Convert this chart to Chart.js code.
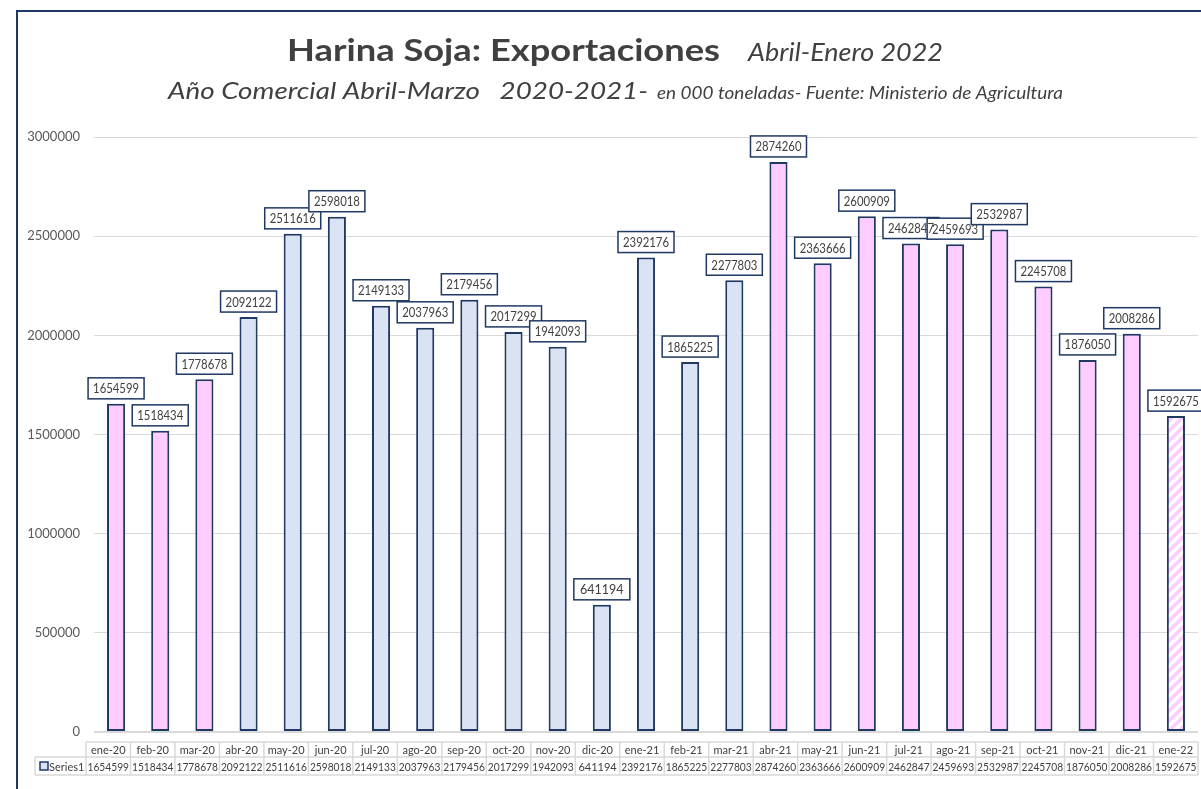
<!DOCTYPE html>
<html>
<head>
<meta charset="utf-8">
<script src="https://cdn.jsdelivr.net/npm/chart.js@4.4.1/dist/chart.umd.min.js"></script>
<style>
  body { margin: 0; background: #fff; }
  canvas { display: block; }
</style>
</head>
<body>
<canvas id="myChart" width="1201" height="789"></canvas>
<script>
// datos
const meses = ['ene-20','feb-20','mar-20','abr-20','may-20','jun-20','jul-20','ago-20','sep-20','oct-20','nov-20','dic-20',
  'ene-21','feb-21','mar-21','abr-21','may-21','jun-21','jul-21','ago-21','sep-21','oct-21','nov-21','dic-21','ene-22'];
const exportaciones = [1654599,1518434,1778678,2092122,2511616,2598018,2149133,2037963,2179456,2017299,1942093,641194,
  2392176,1865225,2277803,2874260,2363666,2600909,2462847,2459693,2532987,2245708,1876050,2008286,1592675];
const campania = ['19/20','19/20','19/20','20/21','20/21','20/21','20/21','20/21','20/21','20/21','20/21','20/21',
  '20/21','20/21','20/21','21/22','21/22','21/22','21/22','21/22','21/22','21/22','21/22','21/22','21/22p'];
const yTicks = [0, 500000, 1000000, 1500000, 2000000, 2500000, 3000000];
const serieNombre = 'Series1';

const NAVY = '#1F3864';
const PINK = '#FFCCFF';
const BLUE = '#DAE3F3';
const TXT = '#404040';
const FONT = 'Lato, "Open Sans", sans-serif';

// rayado para el ultimo mes (parcial)
function rayado() {
  const c = document.createElement('canvas');
  c.width = 10; c.height = 10;
  const g = c.getContext('2d');
  g.fillStyle = '#fff';
  g.fillRect(0, 0, 10, 10);
  g.strokeStyle = PINK;
  g.lineWidth = 3.5;
  g.beginPath();
  g.moveTo(-2, 12); g.lineTo(12, -2);
  g.moveTo(-7, 7); g.lineTo(7, -7);
  g.moveTo(3, 17); g.lineTo(17, 3);
  g.stroke();
  return g.createPattern(c, 'repeat');
}
const rayas = rayado();
const colores = campania.map(c => c === '20/21' ? BLUE : (c === '21/22p' ? rayas : PINK));

// texto estirado al ancho pedido (la fuente original es mas ancha)
function texto(ctx, t, x, y, font, w) {
  ctx.font = font;
  const m = ctx.measureText(t).width;
  ctx.save();
  ctx.translate(x, y);
  ctx.scale(w / m, 1);
  ctx.fillText(t, 0, 0);
  ctx.restore();
}

const fondo = {
  id: 'fondo',
  beforeDraw(chart) {
    const ctx = chart.ctx;
    ctx.save();
    ctx.fillStyle = '#fff';
    ctx.fillRect(0, 0, chart.width, chart.height);
    ctx.strokeStyle = NAVY;
    ctx.lineWidth = 2;
    ctx.strokeRect(17, 11, chart.width + 20, chart.height + 20);
    ctx.restore();
  },
  afterDraw(chart) {
    const ctx = chart.ctx;
    ctx.save();
    ctx.fillStyle = TXT;
    ctx.textBaseline = 'alphabetic';
    ctx.textAlign = 'left';
    texto(ctx, 'Harina Soja: Exportaciones', 287, 61, 'bold 31px ' + FONT, 433);
    texto(ctx, 'Abril-Enero 2022', 748, 61, 'italic 25px ' + FONT, 195);
    texto(ctx, 'Año Comercial Abril-Marzo   2020-2021-', 168, 99, 'italic 24px ' + FONT, 480);
    texto(ctx, 'en 000 toneladas- Fuente: Ministerio de Agricultura', 657, 99, 'italic 17px ' + FONT, 406);
    ctx.restore();
  }
};

// primero las cajas, despues los numeros (como Excel)
const etiquetas = {
  id: 'etiquetas',
  afterDatasetsDraw(chart) {
    const ctx = chart.ctx;
    const meta = chart.getDatasetMeta(0);
    const w = 56, h = 21;
    ctx.save();
    meta.data.forEach(bar => {
      const x = bar.x - w / 2, y = bar.y - 5 - h;
      ctx.fillStyle = '#fff';
      ctx.fillRect(x, y, w, h);
      ctx.strokeStyle = NAVY;
      ctx.lineWidth = 1.5;
      ctx.strokeRect(x, y, w, h);
    });
    ctx.font = '12.5px ' + FONT;
    ctx.textAlign = 'center';
    ctx.textBaseline = 'middle';
    ctx.fillStyle = TXT;
    meta.data.forEach((bar, i) => {
      ctx.fillText(String(exportaciones[i]), bar.x, bar.y - 5 - h / 2 + 1, 46);
    });
    ctx.restore();
  }
};

const tabla = {
  id: 'tabla',
  afterDraw(chart) {
    const ctx = chart.ctx;
    const a = chart.chartArea;
    const left = a.left - 8, right = a.right;
    const cw = (right - left) / meses.length;
    const top = 742, mid = 757, bot = 775, legL = 35;
    ctx.save();
    ctx.strokeStyle = '#D9D9D9';
    ctx.lineWidth = 1.5;
    ctx.beginPath();
    ctx.moveTo(left, top); ctx.lineTo(right, top);
    ctx.moveTo(legL, mid); ctx.lineTo(right, mid);
    ctx.moveTo(legL, bot); ctx.lineTo(right, bot);
    ctx.moveTo(legL, mid); ctx.lineTo(legL, bot);
    for (let i = 0; i <= meses.length; i++) {
      const x = left + i * cw;
      ctx.moveTo(x, top); ctx.lineTo(x, bot);
    }
    ctx.stroke();
    ctx.fillStyle = TXT;
    ctx.font = '11px ' + FONT;
    ctx.textAlign = 'center';
    ctx.textBaseline = 'middle';
    meses.forEach((m, i) => {
      const cx = left + (i + 0.5) * cw;
      ctx.fillText(m, cx, (top + mid) / 2 + 1, cw - 3);
      ctx.fillText(String(exportaciones[i]), cx, (mid + bot) / 2 + 1, cw - 3);
    });
    // clave de la serie
    ctx.fillStyle = BLUE;
    ctx.fillRect(40, 762, 8, 8);
    ctx.strokeStyle = NAVY;
    ctx.lineWidth = 1.5;
    ctx.strokeRect(40, 762, 8, 8);
    ctx.fillStyle = TXT;
    ctx.textAlign = 'left';
    ctx.fillText(serieNombre, 49, (mid + bot) / 2 + 1, 36);
    ctx.restore();
  }
};

const ctx = document.getElementById('myChart').getContext('2d');
const myChart = new Chart(ctx, {
  type: 'bar',
  data: {
    labels: meses,
    datasets: [{
      label: serieNombre,
      data: exportaciones,
      backgroundColor: colores,
      borderColor: NAVY,
      borderWidth: 2,
      borderSkipped: false,
      categoryPercentage: 1,
      barPercentage: 0.41
    }]
  },
  options: {
    responsive: false,
    animation: false,
    layout: { padding: { top: 137, left: 0, right: 3, bottom: 0 } },
    plugins: {
      legend: { display: false },
      title: { display: false },
      tooltip: { enabled: false }
    },
    scales: {
      x: {
        grid: { display: false },
        border: { display: false },
        ticks: { display: false },
        afterFit(scale) { scale.height = 57; }
      },
      y: {
        min: 0,
        max: 3000000,
        afterBuildTicks(scale) { scale.ticks = yTicks.map(v => ({ value: v })); },
        grid: {
          color: '#D9D9D9',
          lineWidth: c => c.tick && c.tick.value === 0 ? 2 : 1,
          drawTicks: false
        },
        border: { display: false },
        ticks: {
          padding: 14,
          color: '#595959',
          font: { family: FONT, size: 13 },
          callback: v => String(v)
        },
        afterFit(scale) { scale.width = 94; }
      }
    }
  },
  plugins: [fondo, etiquetas, tabla]
});
</script>
</body>
</html>
